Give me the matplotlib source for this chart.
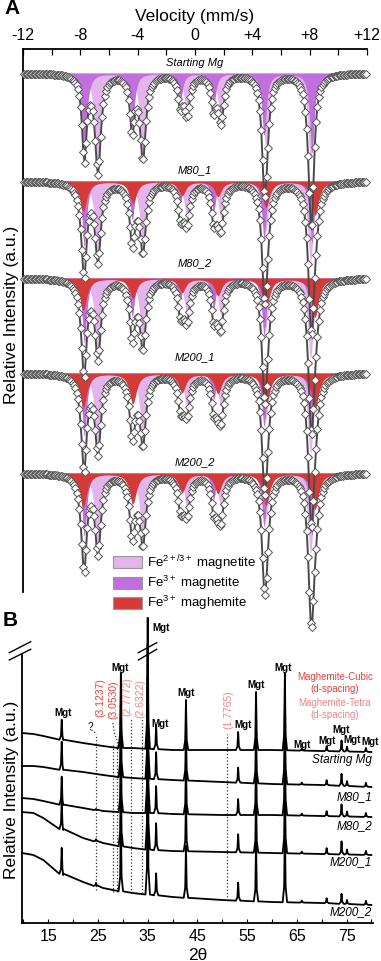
import numpy as np
import matplotlib
matplotlib.use('Agg')
import matplotlib.pyplot as plt
from matplotlib.patches import Patch
from matplotlib.lines import Line2D

plt.rcParams['font.family'] = ['Liberation Sans', 'DejaVu Sans']
plt.rcParams['mathtext.fontset'] = 'custom'
plt.rcParams['mathtext.rm'] = 'Liberation Sans'
plt.rcParams['mathtext.it'] = 'Liberation Sans:italic'

W, H = 381, 961

# ---------------- A: Mossbauer spectra ----------------
samples = ['Starting Mg', 'M80_1', 'M80_2', 'M200_1', 'M200_2']
ms_offsets = [0, -108, -205, -300, -400]
label_rise = [10, 11, 15, 16, 11]

# sextet line positions (mm/s)
lines_fe25 = [-6.77, -3.63, -0.56, 1.81, 4.94, 8.06]   # Fe2+/3+ magnetite
lines_fe3 = [-7.72, -4.38, -1.03, 1.30, 4.82, 8.16]    # Fe3+ magnetite
lines_mgh = [-7.80, -4.33, -0.90, 1.60, 4.95, 8.37]    # Fe3+ maghemite
hw_fe25, hw_fe3, hw_mgh = 0.24, 0.19, 0.30

# absorption depth of each line, per sample
depth_fe25 = [[98, 84, 39, 47, 72, 85],
              [77, 67, 35, 36, 49, 80],
              [77, 67, 35, 36, 49, 80],
              [77, 67, 33, 33, 45, 80],
              [77, 67, 33, 33, 45, 80]]
depth_fe3 = [[84, 54, 28, 32, 62, 80],
             [65, 38, 21, 30, 57, 62],
             [65, 38, 21, 30, 57, 62],
             [63, 31, 16, 26, 53, 62],
             [63, 31, 16, 26, 53, 62]]
depth_mgh = [[0, 0, 0, 0, 0, 0],
             [30, 22, 14, 15, 26, 34],
             [32, 20, 14, 17, 29, 39],
             [34, 30, 19, 20, 32, 36],
             [34, 30, 19, 20, 32, 36]]

c_fe25 = '#e4b4ec'
c_fe3 = '#c36ede'
c_mgh = '#d63a38'

# ---------------- B: XRD patterns ----------------
tt_knots = [9.7, 12, 14, 18, 22, 26, 29, 32, 36, 40, 50, 60, 70, 80]
xrd_bg = [[190, 189, 187, 183, 180, 177, 175, 175, 174, 173, 173, 173, 172, 171],
          [157, 157, 156, 153, 151, 148, 146, 145, 144, 143, 141, 139, 138, 136],
          [125, 124, 122, 118, 115, 112, 111, 110, 110, 109, 108, 108, 107, 106],
          [111, 110, 105, 93, 85, 80, 77, 75, 73, 72, 71, 70, 69, 68],
          [70, 68, 63, 48, 41, 35, 32, 30, 28, 26, 23, 21, 20, 18]]
peak_pos = [17.7, 24.6, 29.6, 35.0, 36.7, 42.7, 53.2, 56.8, 62.6, 66.0, 71.0, 74.0, 75.1, 78.9]
peak_h = [[20, 0, 75, 131, 24, 50, 18, 58, 77, 2, 5, 11, 5, 4],
          [28, 0, 72, 135, 27, 52, 15, 58, 78, 2, 5, 12, 5, 4],
          [28, 1, 72, 135, 27, 52, 16, 58, 78, 2, 5, 12, 5, 4],
          [28, 2, 72, 135, 27, 52, 18, 58, 78, 2, 6, 13, 5, 4],
          [26, 3, 72, 135, 22, 52, 18, 58, 78, 2, 5, 10, 4, 4]]
xrd_label_y = [163, 126, 97, 61, 11]

# Mgt labels (2theta, height)
mgt_x = [18.0, 29.4, 37.6, 37.5, 42.7, 54.2, 56.8, 62.2, 66.0, 71.1, 73.9, 76.1, 79.7]
mgt_y = [210, 255, 295, 199, 230, 198, 238, 255, 178, 182, 193, 183, 181]

# d-spacing markers
dsp_x = [24.6, 28.0, 28.8, 31.6, 33.8, 51.0]
dsp_top = [189, 178, 183, 205, 205, 189]
dsp_bot = [33, 31, 31, 30, 30, 26]
dsp_text = ['(3.1237)', '(3.0530)', '(2.7772)', '(2.6322)', '(1.7765)']
dsp_text_x = [25.4, 28.0, 31.0, 33.45, 51.2]
dsp_text_y = [225, 223, 226, 225, 213]
red_cubic = '#e8403a'
pink_tetra = '#f08585'
dsp_color = [red_cubic, red_cubic, pink_tetra, pink_tetra, pink_tetra]


def fx(x):
    return x / W


def fy(y):
    return 1 - y / H


def sextet(v, pos, depth, hw):
    out = np.zeros_like(v)
    for p, d in zip(pos, depth):
        out += d / (1 + ((v - p) / hw) ** 2)
    return out


fig = plt.figure(figsize=(W / 100, H / 100), dpi=100)

# ---- panel A ----
axA = fig.add_axes([fx(23), fy(640), fx(367) - fx(23), fy(49) - fy(640)])
axA.patch.set_visible(False)
axA.set_xlim(-12, 12)
axA.set_ylim(-567, 24)
for s in ['bottom', 'right']:
    axA.spines[s].set_visible(False)
for s in ['top', 'left']:
    axA.spines[s].set_linewidth(1.3)
axA.spines['left'].set_bounds(-519, 24)
axA.xaxis.tick_top()
axA.set_xticks(np.arange(-12, 13, 4))
axA.set_xticklabels(['-12', '-8', '-4', '0', '+4', '+8', '+12'])
axA.set_xticks(np.arange(-12, 13, 2), minor=True)
axA.tick_params(axis='x', which='both', direction='in', length=4, width=0.9,
                labelsize=11.5, pad=4)
axA.set_yticks([])

v_fine = np.linspace(-11.9, 11.9, 1600)
v_data = np.linspace(-11.9, 11.9, 256)
for i, name in enumerate(samples):
    b = ms_offsets[i]
    f25 = sextet(v_fine, lines_fe25, depth_fe25[i], hw_fe25)
    f3 = sextet(v_fine, lines_fe3, depth_fe3[i], hw_fe3)
    fm = sextet(v_fine, lines_mgh, depth_mgh[i], hw_mgh)
    axA.fill_between(v_fine, b, b - f25, color=c_fe25, lw=0, zorder=1)
    axA.fill_between(v_fine, b, b - f3, color=c_fe3, lw=0, zorder=2)
    if max(depth_mgh[i]) > 0:
        axA.fill_between(v_fine, b, b - fm, color=c_mgh, lw=0, zorder=3)
    tot = (sextet(v_data, lines_fe25, depth_fe25[i], hw_fe25)
           + sextet(v_data, lines_fe3, depth_fe3[i], hw_fe3)
           + sextet(v_data, lines_mgh, depth_mgh[i], hw_mgh))
    axA.plot(v_data, b - tot, '-', color='#4a4a4a', lw=1.4, marker='D', ms=4.0,
             mfc='white', mec='#555555', mew=0.7, zorder=4, clip_on=False)
    axA.text(0, b + label_rise[i], name, ha='center', va='center',
             style='italic', fontsize=8)

handles = [Patch(facecolor=c_fe25, edgecolor='#999999', lw=0.8),
           Patch(facecolor=c_fe3, edgecolor='#999999', lw=0.8),
           Patch(facecolor=c_mgh, edgecolor='#999999', lw=0.8)]
labels = ['Fe$^{2+/3+}$ magnetite', 'Fe$^{3+}$ magnetite', 'Fe$^{3+}$ maghemite']
fig.legend(handles, labels, loc='upper left', bbox_to_anchor=(fx(113), fy(553)),
           frameon=False, fontsize=9.5, handlelength=2.2, handleheight=1.0,
           handletextpad=0.4, labelspacing=0.12, borderpad=0, borderaxespad=0)

fig.text(fx(195), fy(16), 'Velocity (mm/s)', ha='center', va='center', fontsize=12.5)
fig.text(fx(12), fy(315), 'Relative Intensity (a.u.)', ha='center', va='center',
         rotation=90, fontsize=12.5)
fig.text(fx(4), fy(9), 'A', ha='left', va='center', fontsize=15, fontweight='bold')

# ---- panel B ----
axB = fig.add_axes([fx(21.7), fy(923), fx(373) - fx(21.7), fy(618) - fy(923)])
axB.patch.set_visible(False)
axB.set_xlim(9.65, 80.33)
axB.set_ylim(0, 305)
for s in ['top', 'right']:
    axB.spines[s].set_visible(False)
for s in ['bottom', 'left']:
    axB.spines[s].set_linewidth(1.3)
axB.spines['left'].set_bounds(0, 269)
axB.set_xticks(np.arange(15, 80, 10))
axB.set_xticks(np.arange(10, 81, 5), minor=True)
axB.tick_params(axis='x', which='both', direction='in', length=3, width=0.8,
                labelsize=11.5, pad=4)
axB.set_yticks([])
axB.set_xlabel('2θ', fontsize=12.5, labelpad=3)

for i, name in enumerate(samples):
    xs = list(tt_knots)
    ys = list(xrd_bg[i])
    for p, h in zip(peak_pos, peak_h[i]):
        if h <= 0:
            continue
        base = np.interp(p, tt_knots, xrd_bg[i])
        for dx, f in [(-0.45, 0), (-0.15, 0.2), (0, 1), (0.15, 0.2), (0.45, 0)]:
            xs.append(p + dx)
            ys.append(base + f * h)
    order = np.argsort(xs)
    axB.plot(np.array(xs)[order], np.array(ys)[order], color='black', lw=1.3,
             zorder=3, clip_on=False)
    axB.text(80.2, xrd_label_y[i], name, ha='right', va='center',
             style='italic', fontsize=8.5)

for x, y in zip(mgt_x, mgt_y):
    axB.text(x, y, 'Mgt', ha='center', va='center', fontsize=7, fontweight='bold')

axB.vlines(dsp_x, dsp_bot, dsp_top, colors='#333333', linestyles=':', lw=0.9)
axB.plot([23.7, 24.1, 24.6], [193, 192, 189], ':', color='#333333', lw=0.9)
axB.plot([28.0, 28.3, 28.8], [200, 190, 183], ':', color='#333333', lw=0.9)
axB.text(23.4, 196, '?', ha='center', va='center', fontsize=7)
for t, x, y, c in zip(dsp_text, dsp_text_x, dsp_text_y, dsp_color):
    axB.text(x, y, t, rotation=90, ha='center', va='center', fontsize=7.5, color=c)

fig.text(fx(335), fy(677), 'Maghemite-Cubic', ha='center', va='center', fontsize=7, color=red_cubic)
fig.text(fx(335), fy(689), '(d-spacing)', ha='center', va='center', fontsize=7, color=red_cubic)
fig.text(fx(335), fy(703), 'Maghemite-Tetra', ha='center', va='center', fontsize=7, color=pink_tetra)
fig.text(fx(335), fy(715), '(d-spacing)', ha='center', va='center', fontsize=7, color=pink_tetra)

fig.text(fx(12), fy(790), 'Relative Intensity (a.u.)', ha='center', va='center',
         rotation=90, fontsize=12.5)
fig.text(fx(3), fy(620), 'B', ha='left', va='center', fontsize=15, fontweight='bold')

# axis break marks
for (x1, y1, x2, y2) in [(9.3, 652.7, 30.7, 641.7), (9.3, 660, 30.7, 649.3),
                         (138.3, 652.7, 156.7, 642.7), (138.3, 660, 156.7, 649.3)]:
    fig.add_artist(Line2D([fx(x1), fx(x2)], [fy(y1), fy(y2)], color='black', lw=1.0))

fig.savefig('out.png', dpi=100)
